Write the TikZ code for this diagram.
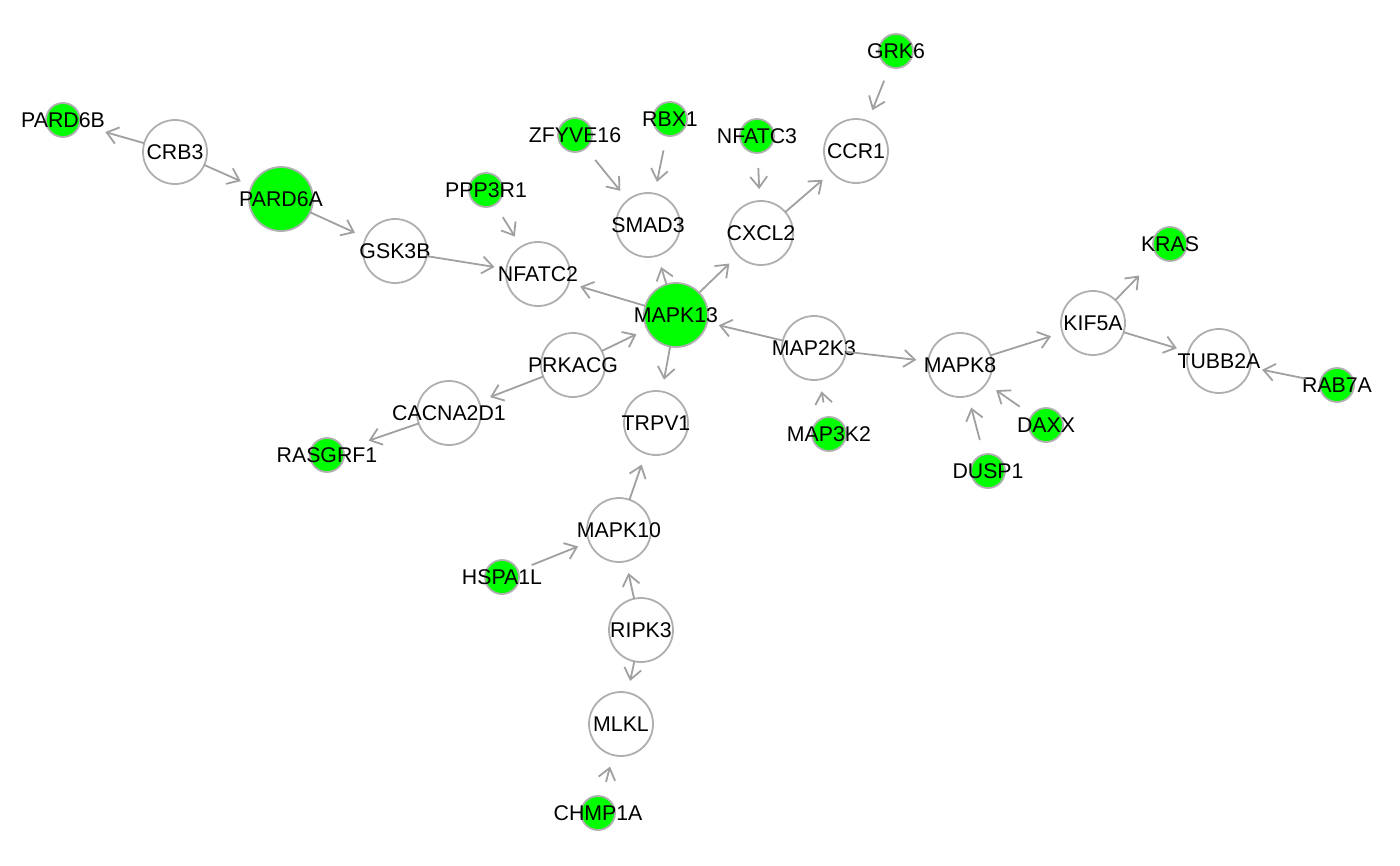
\documentclass[tikz,border=0pt]{standalone}
\usepackage{fontspec}
\setmainfont{Liberation Sans}
\usepackage{xcolor}
\usepackage{tikz}
\usetikzlibrary{arrows.meta}
\usetikzlibrary{positioning}

\definecolor{hitgreen}{HTML}{00FF00}
\definecolor{ring}{HTML}{AFAFAF}
\definecolor{wire}{HTML}{A0A0A0}
\newcommand{\gn}[1]{\makebox[0pt]{#1}}

\begin{document}
\begin{tikzpicture}[x=1pt, y=-1pt,
        font=\fontsize{21.3}{25}\selectfont,
        big/.style={circle, draw=ring, fill=white, line width=1.8pt, minimum size=64pt, inner sep=0pt, outer sep=0pt},
        hit/.style={big, fill=hitgreen},
        small/.style={circle, minimum size=64pt, inner sep=0pt, outer sep=0pt,
          path picture={\filldraw[fill=hitgreen, draw=ring, line width=1.8pt] (path picture bounding box.center) circle (17pt);}},
        link/.style={draw=wire, line width=1.8pt, -{Straight Barb[length=11pt,width=17pt]}, shorten >=12pt}]
        \useasboundingbox (0,0) rectangle (1400,865);
        % left arm
        \node [small] (pard6b) at (63, 120) {\gn{PARD6B}};
        \node [big] (crb3) at (175, 152) {\gn{CRB3}};
        \node [hit] (pard6a) at (281, 199) {\gn{PARD6A}};
        \node [big] (gsk3b) at (395, 251) {\gn{GSK3B}};
        \node [small] (ppp3r1) at (486, 190) {\gn{PPP3R1}};
        \node [big] (nfatc2) at (538, 274) {\gn{NFATC2}};
        % top
        \node [small] (zfyve16) at (575, 135) {\gn{ZFYVE16}};
        \node [small] (rbx1) at (670, 119) {\gn{RBX1}};
        \node [small] (nfatc3) at (757, 136) {\gn{NFATC3}};
        \node [small] (grk6) at (896, 51) {\gn{GRK6}};
        \node [big] (smad3) at (648, 225) {\gn{SMAD3}};
        \node [big] (cxcl2) at (761, 233) {\gn{CXCL2}};
        \node [big] (ccr1) at (856, 151) {\gn{CCR1}};
        % centre
        \node [hit] (mapk13) at (676, 315) {\gn{MAPK13}};
        \node [big] (prkacg) at (573, 365) {\gn{PRKACG}};
        \node [big] (trpv1) at (656, 423) {\gn{TRPV1}};
        \node [big] (map2k3) at (814, 348) {\gn{MAP2K3}};
        \node [small] (map3k2) at (829, 434) {\gn{MAP3K2}};
        \node [big] (cacna2d1) at (449, 413) {\gn{CACNA2D1}};
        \node [small] (rasgrf1) at (327, 455) {\gn{RASGRF1}};
        % right arm
        \node [big] (mapk8) at (960, 365) {\gn{MAPK8}};
        \node [big] (kif5a) at (1093, 323) {\gn{KIF5A}};
        \node [small] (kras) at (1170, 244) {\gn{KRAS}};
        \node [big] (tubb2a) at (1219, 361) {\gn{TUBB2A}};
        \node [small] (rab7a) at (1337, 385) {\gn{RAB7A}};
        \node [small] (daxx) at (1046, 425) {\gn{DAXX}};
        \node [small] (dusp1) at (988, 471) {\gn{DUSP1}};
        % bottom
        \node [big] (mapk10) at (619, 530) {\gn{MAPK10}};
        \node [small] (hspa1l) at (502, 577) {\gn{HSPA1L}};
        \node [big] (ripk3) at (641, 630) {\gn{RIPK3}};
        \node [big] (mlkl) at (621, 724) {\gn{MLKL}};
        \node [small] (chmp1a) at (598, 813) {\gn{CHMP1A}};
        % edges
        \draw [link] (crb3)--(pard6b);
        \draw [link] (crb3)--(pard6a);
        \draw [link] (pard6a)--(gsk3b);
        \draw [link] (gsk3b)--(nfatc2);
        \draw [link] (ppp3r1)--(nfatc2);
        \draw [link] (zfyve16)--(smad3);
        \draw [link] (rbx1)--(smad3);
        \draw [link] (nfatc3)--(cxcl2);
        \draw [link] (grk6)--(ccr1);
        \draw [link] (cxcl2)--(ccr1);
        \draw [link] (mapk13)--(nfatc2);
        \draw [link] (mapk13)--(smad3);
        \draw [link] (mapk13)--(cxcl2);
        \draw [link] (mapk13)--(trpv1);
        \draw [link] (prkacg)--(mapk13);
        \draw [link] (map2k3)--(mapk13);
        \draw [link] (map2k3)--(mapk8);
        \draw [link] (map3k2)--(map2k3);
        \draw [link] (prkacg)--(cacna2d1);
        \draw [link] (cacna2d1)--(rasgrf1);
        \draw [link] (mapk8)--(kif5a);
        \draw [link] (kif5a)--(kras);
        \draw [link] (kif5a)--(tubb2a);
        \draw [link] (rab7a)--(tubb2a);
        \draw [link] (daxx)--(mapk8);
        \draw [link] (dusp1)--(mapk8);
        \draw [link] (mapk10)--(trpv1);
        \draw [link] (hspa1l)--(mapk10);
        \draw [link] (ripk3)--(mapk10);
        \draw [link] (ripk3)--(mlkl);
        \draw [link] (chmp1a)--(mlkl);
      \end{tikzpicture}
\end{document}
